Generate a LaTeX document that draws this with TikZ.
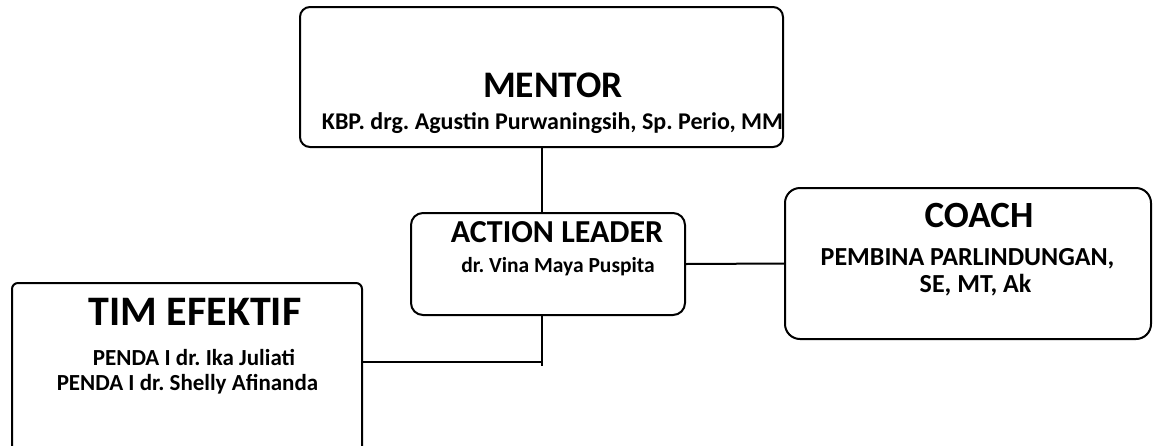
\documentclass[tikz,border=0pt]{standalone}
\usepackage{fontspec}
\setmainfont{Carlito}
\usetikzlibrary{positioning,calc}

\tikzset{
  boxnode/.style={draw, line width=2pt, minimum width=#1, inner sep=0pt},
  title/.style={font=\bfseries\fontsize{#1}{#1}\selectfont\frenchspacing, inner sep=0pt, anchor=center},
  link/.style={line width=2pt}
}

\begin{document}
\begin{tikzpicture}[x=1pt, y=-1pt]
  %%%%% FRAME %%%%%
  \useasboundingbox (0,0) rectangle (1153,445);
  \clip (0,0) rectangle (1153,445);

  %%%%% BOXES %%%%%
  \node[boxnode=483pt, minimum height=140pt, rounded corners=10pt] (mentor) at (541.5,77) {};
  \node[boxnode=274pt, minimum height=102pt, rounded corners=12pt] (leader) at (548,264) {};
  \node[boxnode=366pt, minimum height=151pt, rounded corners=15pt] (coach) at (968,263.5) {};
  \node[boxnode=350pt, minimum height=190pt, rounded corners=6pt] (team) at (187,378) {};

  %%%%% TEXTS %%%%%
  \node[title=37.5pt] (mentorT) at (553,85) {MENTOR};
  \node[title=24pt] (mentorN) at (552.5,123) {KBP. drg. Agustin Purwaningsih, Sp. Perio, MM};

  \node[title=32pt] (leaderT) at (557,232) {ACTION LEADER};
  \node[title=21.5pt] (leaderN) at (558,267) {dr. Vina Maya Puspita};

  \node[title=37pt] (coachT) at (979,215) {COACH};
  \node[title=26pt] (coachN1) at (967.5,259) {PEMBINA PARLINDUNGAN,};
  \node[title=26pt] (coachN2) at (975.5,285) {SE, MT, Ak};

  \node[title=42pt] (teamT) at (195,312) {TIM EFEKTIF};
  \node[title=23pt] (teamN1) at (194,357) {PENDA I dr. Ika Juliati};
  \node[title=23pt] (teamN2) at (187.5,384) {PENDA I dr. Shelly Afinanda};

  %%%%% LINKS %%%%%
  \coordinate (joint) at (541.5,362);
  \coordinate (below) at ($(joint)+(0,4)$);
  \draw[link] (mentor.south) -- (mentor.south |- leader.north);
  \draw[link] (leader.east) -- (coach.west);
  \draw[link] (mentor.south |- leader.south) -- (below);
  \draw[link] (joint -| team.east) -- (joint);
\end{tikzpicture}
\end{document}
